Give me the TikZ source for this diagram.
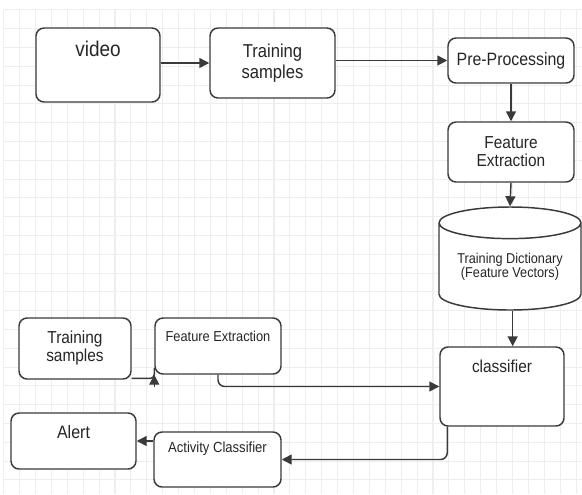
\documentclass[tikz,border=0pt]{standalone}
\usepackage{fontspec}
\setmainfont[FakeStretch=0.89]{Liberation Sans}
\usetikzlibrary{positioning}
\usetikzlibrary{shapes.geometric,arrows.meta}
\definecolor{lineGray}{HTML}{3A3A3A}
\definecolor{gridGray}{HTML}{EEEEEE}
\tikzset{
    procBox/.style={draw=lineGray, line width=1.1pt, rounded corners=6pt, fill=white, text=black!85, align=center, inner sep=0pt},
    dataStore/.style={cylinder, shape border rotate=90, aspect=0.3, anchor=shape center, draw=lineGray, line width=1.1pt, fill=white, text=black!85, align=center, inner sep=0pt},
    flowArrow/.style={draw=lineGray, line width=1.1pt, -{Triangle[length=7.5pt,width=7.5pt]}},
    topText/.style={anchor=center, text=black!85, yshift=-#1},
    gridLine/.style={gridGray, line width=0.8pt}
}

\begin{document}
\begin{tikzpicture}[x=0.75pt,y=-0.75pt]
	\useasboundingbox (0,0) rectangle (582,494);
	% background grid
	\foreach \i in {0,...,36} {\draw[gridLine] ({3.7+15.9*\i},9.9) -- ({3.7+15.9*\i},494);}
	\foreach \j in {0,...,25} {\draw[gridLine] (3.7,{9.9+18.8*\j}) -- (582,{9.9+18.8*\j});}

	% training path
	\node[procBox, minimum width=93pt, minimum height=55.5pt,
		label={[topText=16.5pt, font=\fontsize{16}{18}\selectfont]north:video}] (vid) at (98,65) {};
	\node[procBox, minimum width=93.75pt, minimum height=52.5pt, font=\fontsize{14}{15.75}\selectfont] (tsTop) at (272.5,63) {Training\\samples};
	\node[procBox, minimum width=94.5pt, minimum height=33.75pt, font=\fontsize{13.4}{15}\selectfont] (pre) at (511,60.5) {Pre-Processing};
	\node[procBox, minimum width=94.5pt, minimum height=45pt, font=\fontsize{13}{13.5}\selectfont] (feTop) at (511,152) {Feature\\Extraction};
	\node[dataStore, minimum width=106.5pt, minimum height=77.25pt, font=\fontsize{10.7}{10}\selectfont] (dict) at (510,258.5) {Training Dictionary\\(Feature Vectors)};
	\node[procBox, minimum width=93pt, minimum height=59.25pt,
		label={[topText=15pt, font=\fontsize{13}{15}\selectfont]north:classifier}] (cls) at (502,386.5) {};

	% testing path
	\node[procBox, minimum width=84pt, minimum height=45.75pt, font=\fontsize{13}{13.5}\selectfont] (tsLow) at (75,348.5) {Training\\samples};
	\node[procBox, minimum width=94.5pt, minimum height=42pt,
		label={[topText=14.25pt, font=\fontsize{10.8}{12}\selectfont]north:Feature Extraction}] (feLow) at (218,346) {};
	\node[procBox, minimum width=95.25pt, minimum height=41.25pt,
		label={[topText=12.75pt, font=\fontsize{11}{12}\selectfont]north:Activity Classifier}] (act) at (217.5,459.5) {};
	\node[procBox, minimum width=93.75pt, minimum height=42pt,
		label={[topText=15pt, font=\fontsize{13.5}{15}\selectfont]north:Alert}] (alrt) at (73.5,441) {};

	\draw[flowArrow] (vid.east |- tsTop) -- (tsTop.west);
	\draw[flowArrow] (tsTop.east |- pre) -- (pre.west);
	\draw[flowArrow] (pre.south) -- (feTop.north);
	\draw[flowArrow] (feTop.south) -- (dict.north);
	\draw[flowArrow] ([xshift=2pt]dict.south) -- ([xshift=2pt]dict.south |- cls.north);
	\draw[lineGray, line width=1.1pt, rounded corners=3pt] ([yshift=1pt]tsLow.south east) -| ([yshift=5pt]feLow.south west);
	\draw[flowArrow] ([yshift=-9pt]feLow.south west) -- (feLow.south west);
	\draw[flowArrow, rounded corners=5pt] (feLow.south) |- (cls.west);
	\draw[flowArrow, rounded corners=5pt] ([xshift=6pt]cls.south west) |- (act.east);
	\draw[flowArrow] (act.west |- alrt.east) -- (alrt.east);
\end{tikzpicture}
\end{document}
